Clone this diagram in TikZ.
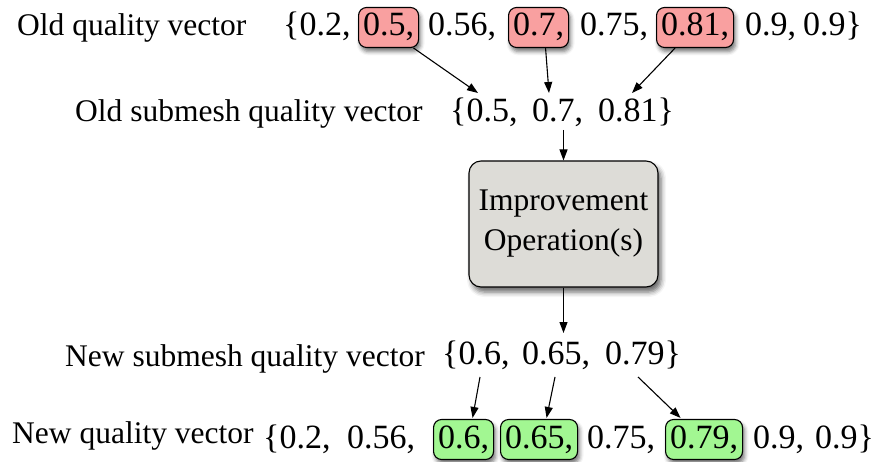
\documentclass[tikz,border=0pt]{standalone}
\usepackage{fontspec}
\setmainfont{Liberation Serif}
\usetikzlibrary{arrows.meta,calc,shadows.blur}
\definecolor{pinkfill}{RGB}{249,160,160}
\definecolor{greenfill}{RGB}{162,247,146}
\definecolor{grayfill}{RGB}{221,220,215}
\tikzset{
  lbl/.style={anchor=base west, inner sep=0pt, font=\fontsize{31.5}{38}\selectfont},
  num/.style={anchor=base west, inner sep=0pt, font=\fontsize{34}{40}\selectfont},
  hbox/.style={num, draw=black, line width=1.1pt, rounded corners=8pt,
    inner xsep=4.5pt, inner ysep=4.5pt, text height=24pt, text depth=7pt,
    blur shadow={shadow xshift=2pt, shadow yshift=-4pt, shadow blur radius=4pt, shadow opacity=55}},
  pinkbox/.style={hbox, fill=pinkfill},
  greenbox/.style={hbox, fill=greenfill},
  impbox/.style={draw=black, line width=1.1pt, rounded corners=12pt, fill=grayfill,
    minimum width=189pt, minimum height=126pt, align=center, inner sep=0pt,
    font=\fontsize{31.5}{40}\selectfont,
    blur shadow={shadow xshift=3pt, shadow yshift=-5pt, shadow blur radius=5pt, shadow opacity=60}},
  arr/.style={-{Triangle[length=11pt,width=8pt]}, line width=1.1pt}
}
\begin{document}
\begin{tikzpicture}[x=1pt,y=-1pt]
\useasboundingbox (0,0) rectangle (883,462);
% Row 1
\node[lbl] (l1) at (17,36) {Old quality vector};
\node[num] (r1a) at (283,36) {\{0.2,};
\node[pinkbox] (b1) at (358,36) {0.5,};
\node[num] (r1b) at (428,36) {0.56,};
\node[pinkbox] (b2) at (508,36) {0.7,};
\node[num] (r1c) at (580,36) {0.75,};
\node[pinkbox] (b3) at (656,36) {0.81,};
\node[num] (r1d) at (745,36) {0.9,};
\node[num] (r1e) at (803,36) {0.9\}};
% Row 2
\node[lbl] (l2) at (75,122) {Old submesh quality vector};
\node[num] (r2a) at (450,122) {\{0.5,};
\node[num] (r2b) at (532,122) {0.7,};
\node[num] (r2c) at (598,122) {0.81\}};
% Improvement box
\node[impbox] (imp) at (563.5,224) {Improvement\\Operation(s)};
% Row 4
\node[lbl] (l4) at (65,366) {New submesh quality vector};
\node[num] (r4a) at (442,364) {\{0.6,};
\node[num] (r4b) at (522,364) {0.65,};
\node[num] (r4c) at (605,364) {0.79\}};
% Row 5
\node[lbl] (l5) at (12,443) {New quality vector};
\node[num] (r5a) at (263,448) {\{0.2,};
\node[num] (r5b) at (347,448) {0.56,};
\node[greenbox] (g1) at (433,448) {0.6,};
\node[greenbox] (g2) at (500,448) {0.65,};
\node[num] (r5c) at (587,448) {0.75,};
\node[greenbox] (g3) at (665,448) {0.79,};
\node[num] (r5d) at (753,448) {0.9,};
\node[num] (r5e) at (815,448) {0.9\}};
% Arrows row 1 -> row 2
\draw[arr] ($(b1.south)+(25,0)$) -- ($(r2a.base west)+(28,-29)$);
\draw[arr] ($(b2.south)+(7,0)$) -- ($(r2b.base west)+(17,-29)$);
\draw[arr] ($(b3.south)+(-20,0)$) -- ($(r2c.base west)+(34,-29)$);
% Row 2 -> box -> row 4
\draw[arr] ($(r2b.base -| imp.north)+(0,8)$) -- (imp.north);
\draw[arr] (imp.south) -- ($(r4b.base -| imp.south)+(0,-31)$);
% Row 4 -> row 5
\draw[arr] ($(r4a.base west)+(38,13)$) -- ($(g1.north)+(9,-1)$);
\draw[arr] ($(r4b.base west)+(33,13)$) -- ($(g2.north)+(7.5,-1)$);
\draw[arr] ($(r4c.base west)+(33,13)$) -- ($(g3.north)+(-23.5,-1)$);
\end{tikzpicture}
\end{document}
